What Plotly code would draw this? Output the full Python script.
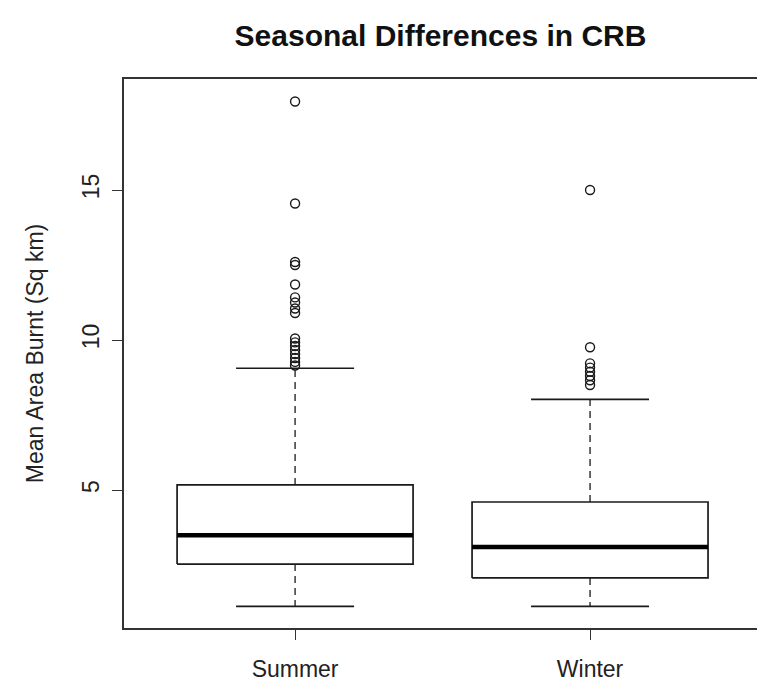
import plotly.graph_objects as go

# Summary statistics of mean area burnt (sq km) per season
categories = ["Summer", "Winter"]
positions = [1, 2]
lower_whisker = [1.12, 1.12]
q1 = [2.53, 2.07]
median = [3.49, 3.10]
q3 = [5.17, 4.60]
upper_whisker = [9.06, 8.02]
outliers = [
    [17.95, 14.55, 12.6, 12.5, 11.85, 11.42, 11.25, 11.05, 10.9,
     10.05, 9.92, 9.8, 9.67, 9.53, 9.4, 9.27, 9.15],
    [15.0, 9.76, 9.22, 9.08, 8.94, 8.8, 8.66, 8.5],
]
y_ticks = [5, 10, 15]

box_half = 0.4
cap_half = 0.2
ink = "#1a1a1a"

fig = go.Figure()

for p, lw, a, m, b, uw, outs in zip(positions, lower_whisker, q1, median, q3,
                                     upper_whisker, outliers):
    # dashed whiskers
    fig.add_trace(go.Scatter(x=[p, p, None, p, p], y=[b, uw, None, a, lw],
                             mode="lines", line=dict(color=ink, width=1.3, dash="7px,5px"),
                             hoverinfo="skip"))
    # whisker caps
    fig.add_trace(go.Scatter(x=[p - cap_half, p + cap_half, None, p - cap_half, p + cap_half],
                             y=[uw, uw, None, lw, lw],
                             mode="lines", line=dict(color=ink, width=1.6),
                             hoverinfo="skip"))
    # box
    fig.add_trace(go.Scatter(x=[p - box_half, p + box_half, p + box_half, p - box_half, p - box_half],
                             y=[a, a, b, b, a], mode="lines", fill="toself",
                             fillcolor="white", line=dict(color=ink, width=1.7),
                             hoverinfo="skip"))
    # median
    fig.add_trace(go.Scatter(x=[p - box_half, p + box_half], y=[m, m],
                             mode="lines", line=dict(color="black", width=4.5),
                             hoverinfo="skip"))
    # outliers
    fig.add_trace(go.Scatter(x=[p] * len(outs), y=outs, mode="markers",
                             marker=dict(symbol="circle-open", size=9,
                                         color=ink, line=dict(width=1.4)),
                             hoverinfo="skip"))

font = "Liberation Sans, Arial, sans-serif"
label_size = 23

fig.update_layout(
    width=757, height=690,
    margin=dict(l=124, r=0, t=79, b=62),
    paper_bgcolor="white", plot_bgcolor="white",
    showlegend=False,
    font=dict(family=font, size=label_size, color="#222"),
    title=dict(text="<b>Seasonal Differences in CRB</b>", x=0.5, xref="paper",
               y=1 - 35 / 690, yref="container", yanchor="middle",
               font=dict(family=font, size=30, color="#111")),
    xaxis=dict(range=[0.42, 2.566], tickmode="array", tickvals=positions,
               ticktext=categories, showgrid=False, zeroline=False,
               showline=True, linecolor="#333", linewidth=1.7, mirror=True,
               ticks="outside", ticklen=10, tickwidth=1.3, tickcolor="#333",
               ticklabelstandoff=10,
               tickfont=dict(size=label_size, color="#222")),
    yaxis=dict(range=[0.4, 18.7], tickmode="array", tickvals=y_ticks,
               showgrid=False, zeroline=False, showline=True,
               linecolor="#333", linewidth=1.7, ticks="outside", ticklen=10,
               tickwidth=1.3, tickcolor="#333", tickangle=-90,
               ticklabelstandoff=4,
               tickfont=dict(size=label_size, color="#222")),
)
fig.update_yaxes(title=dict(text="Mean Area Burnt (Sq km)", standoff=28,
                            font=dict(size=label_size, color="#222")))

fig.write_html("out.html")
